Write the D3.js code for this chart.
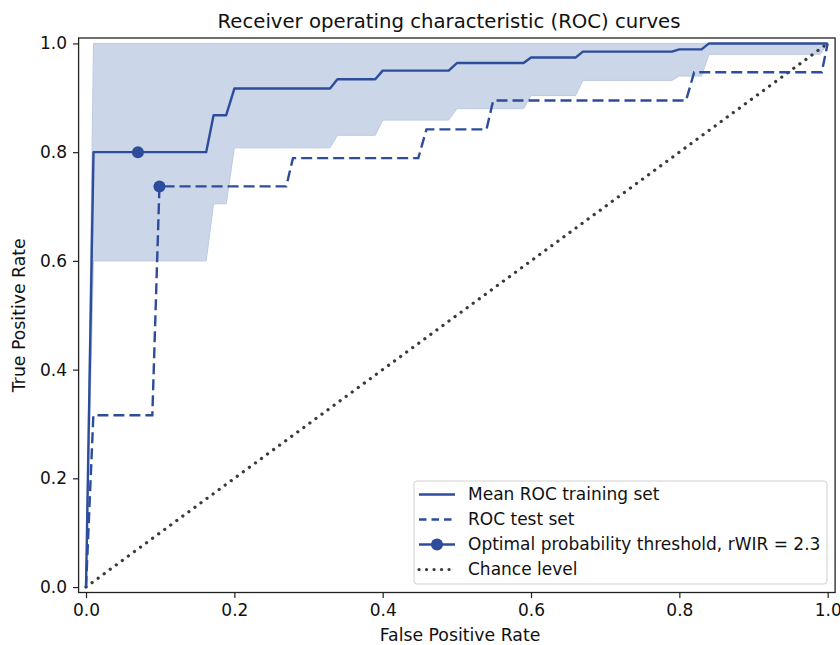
<!DOCTYPE html>
<html>
<head>
<meta charset="utf-8">
<script src="https://cdn.jsdelivr.net/npm/d3@7"></script>
<style>
  body { margin: 0; background: #fff; }
  svg text { font-family: "DejaVu Sans", sans-serif; fill: #111; }
</style>
</head>
<body>
<svg id="chart" width="840" height="645"></svg>
<script>
// mean ROC on training folds (vertices), with +/- 1 std band
const meanFpr = [0, 0.0101, 0.162, 0.172, 0.189, 0.2, 0.329, 0.339, 0.39, 0.40, 0.489, 0.50, 0.59, 0.60, 0.66, 0.67, 0.79, 0.80, 0.83, 0.84, 0.99, 1.0];
const meanTpr = [0, 0.8, 0.8, 0.868, 0.868, 0.917, 0.917, 0.934, 0.934, 0.95, 0.95, 0.964, 0.964, 0.974, 0.974, 0.985, 0.985, 0.989, 0.989, 1.0, 1.0, 1.0];
const upperTpr = [0, 1, 1, 1, 1, 1, 1, 1, 1, 1, 1, 1, 1, 1, 1, 1, 1, 1, 1, 1, 1, 1];
const lowerTpr = [0, 0.6, 0.6, 0.705, 0.705, 0.808, 0.808, 0.831, 0.831, 0.859, 0.859, 0.880, 0.880, 0.904, 0.904, 0.932, 0.932, 0.94, 0.94, 0.98, 0.98, 1.0];

// ROC on the test set
const testFpr = [0, 0.0099, 0.0894, 0.099, 0.27, 0.279, 0.448, 0.459, 0.54, 0.549, 0.809, 0.82, 0.992, 1.0];
const testTpr = [0, 0.316, 0.316, 0.737, 0.737, 0.789, 0.789, 0.842, 0.842, 0.895, 0.895, 0.947, 0.947, 1.0];

// optimal threshold points (training, test)
const optFpr = [0.07, 0.099];
const optTpr = [0.8, 0.737];

const chanceFpr = [0, 1];
const chanceTpr = [0, 1];

const xTicks = [0, 0.2, 0.4, 0.6, 0.8, 1.0];
const yTicks = [0, 0.2, 0.4, 0.6, 0.8, 1.0];

const legendLabels = ["Mean ROC training set", "ROC test set", "Optimal probability threshold, rWIR = 2.3", "Chance level"];

const blue = "#2e4c9c";
const svg = d3.select("#chart");

const x = d3.scaleLinear().domain([-0.01, 1.01]).range([78.6, 835.1]);
const y = d3.scaleLinear().domain([-0.01, 1.01]).range([592.5, 38]);

// std band
const band = meanFpr.map((f, i) => [f, lowerTpr[i], upperTpr[i]]);
svg.append("path")
    .datum(band)
    .attr("d", d3.area().x(d => x(d[0])).y0(d => y(d[1])).y1(d => y(d[2])))
    .attr("fill", "#cbd6e8")
    .attr("stroke", "#bccbe2")
    .attr("stroke-width", 1);

const line = d3.line().x(d => x(d[0])).y(d => y(d[1]));

// chance level
svg.append("path")
    .datum(chanceFpr.map((f, i) => [f, chanceTpr[i]]))
    .attr("d", line)
    .attr("fill", "none")
    .attr("stroke", "#3a3a3a")
    .attr("stroke-width", 3.2)
    .attr("stroke-linecap", "round")
    .attr("stroke-dasharray", "0.1 7.4");

// test ROC
svg.append("path")
    .datum(testFpr.map((f, i) => [f, testTpr[i]]))
    .attr("d", line)
    .attr("fill", "none")
    .attr("stroke", blue)
    .attr("stroke-width", 2.4)
    .attr("stroke-dasharray", "11 5");

// mean ROC
svg.append("path")
    .datum(meanFpr.map((f, i) => [f, meanTpr[i]]))
    .attr("d", line)
    .attr("fill", "none")
    .attr("stroke", blue)
    .attr("stroke-width", 2.4)
    .attr("stroke-linejoin", "round");

svg.append("g").selectAll("circle")
    .data(optFpr.map((f, i) => [f, optTpr[i]]))
    .join("circle")
    .attr("cx", d => x(d[0]))
    .attr("cy", d => y(d[1]))
    .attr("r", 6)
    .attr("fill", blue);

// axes
const xAxis = d3.axisBottom(x).tickValues(xTicks).tickFormat(d3.format(".1f")).tickSize(5.6).tickPadding(6);
const yAxis = d3.axisLeft(y).tickValues(yTicks).tickFormat(d3.format(".1f")).tickSize(5.6).tickPadding(6);

const gx = svg.append("g").attr("transform", "translate(0," + y.range()[0] + ")").call(xAxis);
const gy = svg.append("g").attr("transform", "translate(" + x.range()[0] + ",0)").call(yAxis);
for (const g of [gx, gy]) {
    g.select(".domain").remove();
    g.selectAll(".tick line").attr("stroke", "#222").attr("stroke-width", 1.2);
    g.selectAll(".tick text").attr("font-size", 17).attr("fill", "#111");
}

// frame
svg.append("rect")
    .attr("x", x.range()[0]).attr("y", y.range()[1])
    .attr("width", x.range()[1] - x.range()[0])
    .attr("height", y.range()[0] - y.range()[1])
    .attr("fill", "none")
    .attr("stroke", "#222")
    .attr("stroke-width", 1.3);

svg.append("text")
    .attr("x", 449)
    .attr("y", 28)
    .attr("text-anchor", "middle")
    .attr("font-size", 19.7)
    .text("Receiver operating characteristic (ROC) curves");

svg.append("text")
    .attr("x", 460)
    .attr("y", 641)
    .attr("text-anchor", "middle")
    .attr("font-size", 17.3)
    .text("False Positive Rate");

svg.append("text")
    .attr("transform", "translate(25," + (y.range()[0] + y.range()[1]) / 2 + ") rotate(-90)")
    .attr("text-anchor", "middle")
    .attr("font-size", 17.3)
    .text("True Positive Rate");

// legend
const leg = svg.append("g");
leg.append("rect")
    .attr("x", 414).attr("y", 481)
    .attr("width", 413).attr("height", 103)
    .attr("rx", 3)
    .attr("fill", "#fff").attr("fill-opacity", 0.8)
    .attr("stroke", "#d0d0d0").attr("stroke-width", 1);

const rows = leg.selectAll("g.row")
    .data(legendLabels)
    .join("g")
    .attr("class", "row")
    .attr("transform", (d, i) => "translate(0," + (494.5 + i * 25) + ")");

rows.append("line")
    .attr("x1", 419).attr("x2", 455)
    .attr("stroke", (d, i) => i === 3 ? "#3a3a3a" : blue)
    .attr("stroke-width", (d, i) => i === 3 ? 3.2 : 2.4)
    .attr("stroke-linecap", (d, i) => i === 3 ? "round" : "butt")
    .attr("stroke-dasharray", (d, i) => i === 1 ? "7.5 5" : i === 3 ? "0.1 7.4" : null);

rows.filter((d, i) => i === 2).append("circle")
    .attr("cx", 437).attr("r", 6).attr("fill", blue);

rows.append("text")
    .attr("x", 468)
    .attr("dy", "0.35em")
    .attr("font-size", 17)
    .text(d => d);
</script>
</body>
</html>
